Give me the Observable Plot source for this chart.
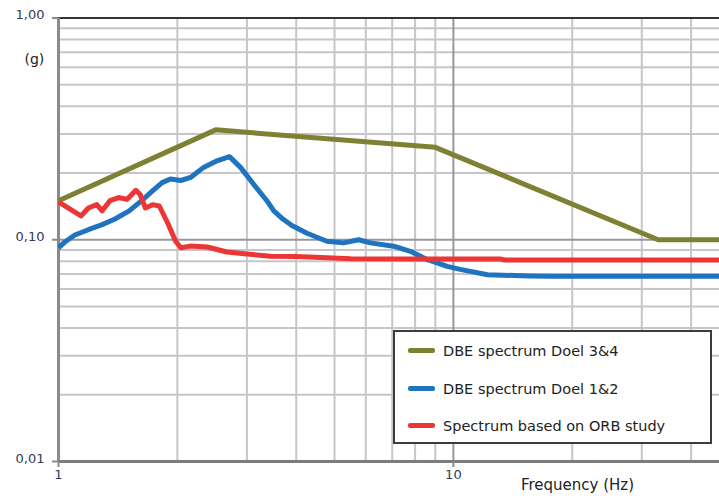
<!DOCTYPE html>
<html>
<head>
<meta charset="utf-8">
<script src="https://cdn.jsdelivr.net/npm/d3@7"></script>
<script src="https://cdn.jsdelivr.net/npm/@observablehq/plot@0.6"></script>
<style>
  html, body { margin: 0; padding: 0; background: #fff; }
  #chart { position: relative; width: 719px; height: 496px; overflow: hidden; font-family: "DejaVu Sans", sans-serif; }
  #chart svg { display: block; }
  .legend { position: absolute; left: 393px; top: 330px; width: 315px; height: 110px; border: 2px solid #3c3c3c; background: #fff; }
  .legend .row { position: absolute; left: 0; height: 20px; }
  .legend .sw { position: absolute; left: 13px; top: 7px; width: 27px; height: 5px; border-radius: 2px; }
  .legend .lb { position: absolute; left: 48px; top: 0; font-size: 14.5px; line-height: 20px; color: #222; white-space: nowrap; }
</style>
</head>
<body>
<div id="chart"></div>
<script>
// Response spectra, acceleration (g) against frequency (Hz), log-log axes.

// DBE spectrum Doel 3&4 (design spectrum corner points)
const doel34Freq  = [1, 2.5, 9, 33, 50];
const doel34Accel = [0.150, 0.313, 0.261, 0.100, 0.100];

// DBE spectrum Doel 1&2
const doel12Freq  = [1, 1.04, 1.10, 1.19, 1.29, 1.39, 1.51, 1.63, 1.73, 1.83, 1.92, 2.04, 2.16, 2.33, 2.52, 2.71,
                     2.89, 3.12, 3.37, 3.51, 3.70, 3.90, 4.26, 4.78, 5.27, 5.76, 6.16, 7.06, 7.78, 8.6, 9.65, 10.4,
                     12.2, 15.6, 17.6, 50];
const doel12Accel = [0.092, 0.098, 0.105, 0.111, 0.117, 0.124, 0.135, 0.151, 0.166, 0.181, 0.188, 0.185, 0.191, 0.212, 0.227, 0.237,
                     0.212, 0.178, 0.150, 0.135, 0.124, 0.116, 0.107, 0.0985, 0.0968, 0.100, 0.0968, 0.0935, 0.0887, 0.0813, 0.0758, 0.0735,
                     0.0695, 0.0687, 0.0685, 0.0685];

// Spectrum based on ORB study
const orbFreq  = [1, 1.06, 1.14, 1.19, 1.25, 1.29, 1.35, 1.42, 1.49, 1.57, 1.61, 1.66, 1.73, 1.80, 1.89, 1.98,
                  2.04, 2.16, 2.38, 2.67, 3.0, 3.44, 4.0, 5.5, 8.1, 13.2, 13.5, 50];
const orbAccel = [0.148, 0.139, 0.128, 0.139, 0.144, 0.135, 0.150, 0.155, 0.152, 0.167, 0.160, 0.139, 0.144, 0.142, 0.119, 0.0985,
                  0.092, 0.0936, 0.0927, 0.0881, 0.0863, 0.0842, 0.0840, 0.0822, 0.0818, 0.0818, 0.0810, 0.0810];

const seriesNames  = ["DBE spectrum Doel 3&4", "DBE spectrum Doel 1&2", "Spectrum based on ORB study"];
const seriesColors = ["#7e8134", "#1f74bf", "#ec3535"];

// Axis ticks and grid
const freqTicks      = [1, 10];
const freqTickLabels = ["1", "10"];
const accelTicks      = [0.01, 0.1, 1];
const accelTickLabels = ["0,01", "0,10", "1,00"];
const freqMinor  = [2, 3, 4, 5, 6, 7, 8, 9, 20, 30, 40];
const accelMinor = [0.02, 0.03, 0.04, 0.05, 0.06, 0.07, 0.08, 0.09, 0.2, 0.3, 0.4, 0.5, 0.6, 0.7, 0.8, 0.9];
const freqMax = 47.2;

const toRows = (f, a, name) => f.map((x, i) => ({freq: x, accel: a[i], series: name}));
const series = [
  toRows(doel34Freq, doel34Accel, seriesNames[0]),
  toRows(doel12Freq, doel12Accel, seriesNames[1]),
  toRows(orbFreq, orbAccel, seriesNames[2])
];

const labelColor = "#343a58";

const chart = Plot.plot({
  width: 719,
  height: 496,
  marginLeft: 58,
  marginRight: 0,
  marginTop: 17.5,
  marginBottom: 35,
  style: {fontFamily: "DejaVu Sans, sans-serif", background: "#fff", overflow: "visible"},
  x: {type: "log", domain: [1, freqMax], axis: null},
  y: {type: "log", domain: [0.01, 1], axis: null},
  marks: [
    Plot.gridX(freqMinor, {stroke: "#c6c6ca", strokeOpacity: 1, strokeWidth: 2}),
    Plot.gridY(accelMinor, {stroke: "#c6c6ca", strokeOpacity: 1, strokeWidth: 2}),
    Plot.ruleX([10], {stroke: "#98989c", strokeWidth: 2}),
    Plot.ruleY([0.1], {stroke: "#98989c", strokeWidth: 2}),
    Plot.ruleY([1], {stroke: "#333", strokeWidth: 2}),
    Plot.ruleX([1], {stroke: "#8a8a8e", strokeWidth: 3}),
    Plot.ruleY([0.01], {stroke: "#7c7c80", strokeWidth: 3}),
    // tick marks
    Plot.axisY({ticks: accelTicks, tickSize: 6, tickFormat: () => "", label: null, stroke: "#8a8a8e", strokeWidth: 2}),
    Plot.axisX({ticks: freqTicks, tickSize: 6, tickFormat: () => "", label: null, stroke: "#8a8a8e", strokeWidth: 2}),
    // tick labels
    Plot.text(accelTicks, {y: d => d, text: (d, i) => accelTickLabels[i], frameAnchor: "left", textAnchor: "end",
                           dx: -14, dy: -3, fontSize: 13, fill: labelColor}),
    Plot.text(freqTicks, {x: d => d, text: (d, i) => freqTickLabels[i], frameAnchor: "bottom",
                          dy: 17, fontSize: 13, fill: labelColor}),
    ...series.map((rows, i) => Plot.line(rows, {
      x: "freq", y: "accel", stroke: seriesColors[i], strokeWidth: 5,
      strokeLinejoin: "round", strokeLinecap: "butt", clip: true
    })),
    Plot.text(["(g)"], {frameAnchor: "top-left", dx: -34, dy: 36, fontSize: 14, fill: "#222"}),
    Plot.text(["Frequency (Hz)"], {frameAnchor: "bottom-right", textAnchor: "middle", dx: -142, dy: 28, fontSize: 15, fill: "#222"})
  ]
});

const root = document.getElementById("chart");
root.appendChild(chart);

// Legend box drawn over the lower right of the plot area
const legend = d3.select(root).append("div").attr("class", "legend");
const rowTops = [9, 47, 84];
seriesNames.forEach((name, i) => {
  const row = legend.append("div").attr("class", "row").style("top", rowTops[i] + "px");
  row.append("span").attr("class", "sw").style("background", seriesColors[i]);
  row.append("span").attr("class", "lb").text(name);
});
</script>
</body>
</html>
